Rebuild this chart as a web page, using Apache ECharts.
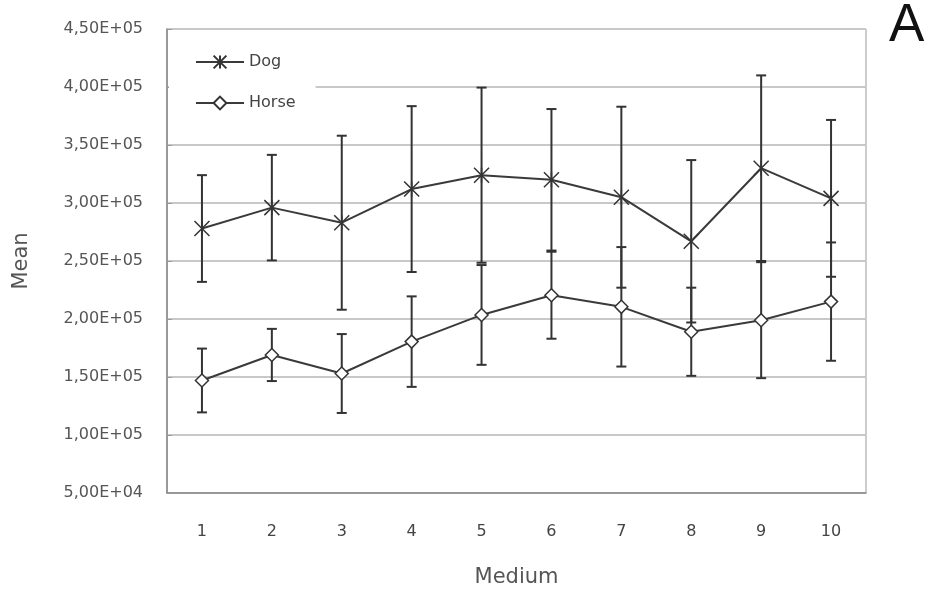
<!DOCTYPE html>
<html>
<head>
<meta charset="utf-8">
<script src="https://cdn.jsdelivr.net/npm/echarts@6/dist/echarts.min.js"></script>
<style>html,body{margin:0;padding:0;background:#fff}#c{width:928px;height:596px}</style>
</head>
<body>
<div id="c"></div>
<script>
var categories = ['1','2','3','4','5','6','7','8','9','10'];
var dogMean = [278000, 296000, 283000, 312000, 324000, 320000, 305000, 267000, 330000, 304000];
var dogErr = [46000, 45500, 75000, 71500, 75500, 61000, 78000, 70000, 80000, 67600];
var horseMean = [147000, 169000, 153000, 180500, 203500, 220500, 210500, 189000, 199000, 215000];
var horseErr = [27500, 22500, 34000, 39000, 43000, 37500, 51500, 38000, 50000, 51000];
var yMin = 50000, yMax = 450000, yStep = 50000;

function sciLabel(v) {
  var e = Math.floor(Math.log10(v) + 1e-9);
  var m = v / Math.pow(10, e);
  var es = (e < 10 ? '0' : '') + e;
  return m.toFixed(2).replace('.', ',') + 'E+' + es;
}

function errData(means, errs) {
  return means.map(function (m, i) { return [i, m - errs[i], m + errs[i]]; });
}

function errRender(params, api) {
  var x = api.value(0);
  var lo = api.coord([x, api.value(1)]);
  var hi = api.coord([x, api.value(2)]);
  var w = 5;
  var st = { stroke: '#333', lineWidth: 2 };
  return {
    type: 'group',
    children: [
      { type: 'line', shape: { x1: lo[0], y1: lo[1], x2: hi[0], y2: hi[1] }, style: st },
      { type: 'line', shape: { x1: lo[0] - w, y1: lo[1], x2: lo[0] + w, y2: lo[1] }, style: st },
      { type: 'line', shape: { x1: hi[0] - w, y1: hi[1], x2: hi[0] + w, y2: hi[1] }, style: st }
    ]
  };
}

var font = 'DejaVu Sans';
var chart = echarts.init(document.getElementById('c'));
chart.setOption({
  animation: false,
  backgroundColor: '#fff',
  grid: { left: 167, right: 62, top: 29, bottom: 103, show: true, borderColor: '#999', borderWidth: 1, backgroundColor: 'transparent' },
  legend: {
    data: ['Dog', 'Horse'],
    orient: 'vertical',
    left: 169, top: 34,
    padding: [20, 20, 14, 26],
    backgroundColor: '#fff',
    itemWidth: 48, itemHeight: 16, itemGap: 25,
    textStyle: { fontFamily: font, fontSize: 16, color: '#444' }
  },
  xAxis: {
    type: 'category',
    data: categories,
    boundaryGap: true,
    name: 'Medium',
    nameLocation: 'middle',
    nameGap: 74,
    nameTextStyle: { fontFamily: font, fontSize: 21, color: '#555' },
    axisLine: { lineStyle: { color: '#888', width: 1.5 } },
    axisTick: { inside: true, length: 5, lineStyle: { color: '#999' } },
    axisLabel: { margin: 31, fontFamily: font, fontSize: 16, color: '#444' },
    splitLine: { show: false }
  },
  yAxis: {
    type: 'value',
    min: yMin, max: yMax, interval: yStep,
    name: 'Mean',
    nameLocation: 'middle',
    nameGap: 135,
    nameTextStyle: { fontFamily: font, fontSize: 21, color: '#555' },
    axisLine: { show: true, lineStyle: { color: '#888', width: 1.5 } },
    axisTick: { show: true, inside: true, length: 5, lineStyle: { color: '#999' } },
    axisLabel: { margin: 24, fontFamily: font, fontSize: 16, color: '#555', formatter: sciLabel },
    splitLine: { show: true, lineStyle: { color: '#c8c8c8', width: 2 } }
  },
  graphic: [
    { type: 'text', left: 889, top: 0, style: { text: 'A', fontFamily: 'Liberation Sans', fontSize: 53, fill: '#111' } }
  ],
  series: [
    {
      name: 'DogErr', type: 'custom', data: errData(dogMean, dogErr), renderItem: errRender,
      encode: { x: 0, y: [1, 2] }, z: 2, silent: true
    },
    {
      name: 'HorseErr', type: 'custom', data: errData(horseMean, horseErr), renderItem: errRender,
      encode: { x: 0, y: [1, 2] }, z: 2, silent: true
    },
    {
      name: 'Dog', type: 'line', data: dogMean, z: 3,
      symbol: 'path://M0,0L10,10M0,10L10,0M5,0L5,10', symbolSize: 15,
      showAllSymbol: true,
      lineStyle: { color: '#3a3a3a', width: 2 },
      itemStyle: { color: '#fff', borderColor: '#333', borderWidth: 1.5 }
    },
    {
      name: 'Horse', type: 'line', data: horseMean, z: 3,
      symbol: 'diamond', symbolSize: 13,
      showAllSymbol: true,
      lineStyle: { color: '#3a3a3a', width: 2 },
      itemStyle: { color: '#fff', borderColor: '#333', borderWidth: 1.5 }
    }
  ]
});
</script>
</body>
</html>
